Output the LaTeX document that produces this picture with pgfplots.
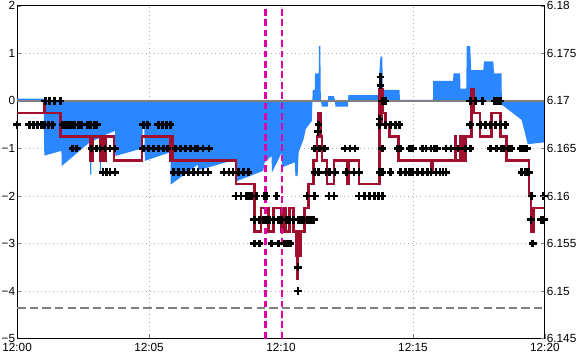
\documentclass[border=0pt]{standalone}
\usepackage{fontspec}
\setmainfont{Liberation Sans}
\usepackage{pgfplots}
\pgfplotsset{compat=1.18}
\definecolor{fillblue}{HTML}{2B87FF}
\definecolor{midred}{HTML}{A0102E}
\definecolor{evmag}{HTML}{E000A8}

\begin{document}
\begin{tikzpicture}[font=\fontsize{7pt}{8pt}\selectfont]
\begin{axis}[
    scale only axis, width=314pt, height=198pt,
    xmin=0, xmax=20, ymin=-5, ymax=2,
    xtick={0,5,10,15,20}, xticklabels={12:00,12:05,12:10,12:15,12:20},
    ytick={-5,-4,-3,-2,-1,0,1,2}, yticklabels={−5,−4,−3,−2,−1,0,1,2},
    xtick pos=bottom, ytick pos=left,
    tick align=inside, major tick length=2.5pt,
    yticklabel style={inner sep=1pt}, xticklabel style={inner sep=1pt, yshift=-1.6pt},
    grid=major, major grid style={gray!60, dotted, line width=0.5pt},
    axis line style={line width=0.7pt},
    clip=true,
]
% spread / imbalance area
\addplot[fill=fillblue, draw=none] coordinates {
 (0,0.05) (1.01,0.05) (1.03,-1.15) (1.68,-1.05) (1.69,-1.37) (2.75,-0.87)
 (2.77,-1.55) (2.81,-1.55) (2.83,-0.85) (3.12,-0.78) (3.14,-1.52) (3.17,-1.52)
 (3.19,-0.75) (3.71,-0.63) (3.72,-1.16) (4.74,-1.0) (4.76,-0.5) (4.82,-0.5)
 (4.84,-1.26) (5.81,-1.08) (5.82,-1.76) (6.85,-1.34) (6.86,-1.46) (8.30,-1.23)
 (8.31,-1.69) (9.33,-1.47) (9.37,-1.3) (9.64,-1.16) (9.66,-1.5) (10.02,-1.1)
 (10.04,-1.4) (10.52,-1.29) (10.55,-1.58) (10.63,-1.58) (10.67,-1.08) (10.86,-0.8)
 (10.94,-0.59) (11.17,-0.42) (11.19,0) (11.2,0.23) (11.28,0.23) (11.29,0.58)
 (11.43,0.58) (11.44,1.15) (11.49,1.15) (11.51,0) (11.55,-0.12) (11.78,-0.12)
 (11.79,0.1) (12.01,0.1) (12.05,0) (12.06,-0.12) (12.54,-0.12) (12.55,0.12)
 (13.69,0.12) (13.73,0.6) (13.77,0.93) (13.84,0.93) (13.86,0.23) (14.49,0.23)
 (14.51,0.02) (15.76,0.02) (15.77,0.42) (16.52,0.42) (16.54,0.58) (16.79,0.58)
 (16.80,0.26) (17.02,0.26) (17.04,1.15) (17.17,1.15) (17.21,0.65) (17.67,0.65)
 (17.69,0.83) (18.05,0.83) (18.07,0.58) (18.36,0.58) (18.37,-0.08) (19.12,-0.4)
 (19.27,-0.73) (19.35,-0.91) (20,-0.87)
} \closedcycle;
\addplot[gray, line width=0.9pt] coordinates {(0,0) (20,0)};
% trades
\addplot[only marks, mark=+, mark size=2.3pt, line width=1.6pt, black] coordinates {
 (1.07,0) (1.22,0) (1.42,0) (1.64,0) (13.84,0) (13.96,0) (17.17,0) (17.36,0)
 (17.63,0) (18.09,0) (18.20,0) (18.32,0)
 (13.77,0.5) (13.77,0.33) (13.73,-0.38) (11.40,-0.65)
 (0,-0.5) (0.46,-0.5) (0.61,-0.5) (0.76,-0.5) (0.92,-0.5) (1.03,-0.5) (1.19,-0.5)
 (1.34,-0.5) (1.72,-0.5) (1.84,-0.5) (1.95,-0.5) (2.07,-0.5) (2.18,-0.5) (2.33,-0.5)
 (2.45,-0.5) (2.68,-0.5) (2.79,-0.5) (2.91,-0.5) (3.02,-0.5) (4.78,-0.5) (4.93,-0.5)
 (5.35,-0.5) (5.51,-0.5) (5.66,-0.5) (5.81,-0.5) (11.42,-0.5) (13.73,-0.5)
 (13.96,-0.5) (14.15,-0.5) (14.34,-0.5) (14.49,-0.5) (17.17,-0.5) (17.55,-0.5)
 (17.74,-0.5) (17.94,-0.5) (18.13,-0.5) (18.32,-0.5) (18.51,-0.5)
 (2.10,-1) (2.26,-1) (2.83,-1) (3.02,-1) (3.14,-1) (3.33,-1) (3.52,-1) (3.71,-1)
 (4.78,-1) (4.97,-1) (5.16,-1) (5.35,-1) (5.55,-1) (5.70,-1) (6.00,-1) (6.20,-1)
 (6.39,-1) (6.58,-1) (6.77,-1) (6.85,-1) (7.04,-1) (7.27,-1) (11.28,-1) (11.47,-1)
 (11.66,-1) (12.43,-1) (12.62,-1) (12.81,-1) (13.84,-1) (14.42,-1) (14.53,-1)
 (14.88,-1) (14.99,-1) (15.37,-1) (15.49,-1) (15.68,-1) (15.83,-1) (15.91,-1)
 (16.25,-1) (16.44,-1) (16.71,-1) (16.98,-1) (17.17,-1) (17.94,-1) (18.16,-1)
 (18.36,-1) (18.43,-1) (18.62,-1) (18.74,-1) (19.08,-1) (19.20,-1) (19.31,-1)
 (3.25,-1.5) (3.40,-1.5) (3.52,-1.5) (3.71,-1.5) (5.93,-1.5) (6.12,-1.5) (6.31,-1.5)
 (6.50,-1.5) (6.69,-1.5) (6.85,-1.5) (7.04,-1.5) (7.23,-1.5) (7.84,-1.5) (8.03,-1.5)
 (8.18,-1.5) (8.38,-1.5) (8.57,-1.5) (8.76,-1.5) (11.28,-1.5) (11.43,-1.5)
 (11.70,-1.5) (11.85,-1.5) (12.05,-1.5) (12.47,-1.5) (12.77,-1.5) (12.96,-1.5)
 (13.73,-1.5) (13.84,-1.5) (14.15,-1.5) (14.53,-1.5) (14.72,-1.5) (14.88,-1.5)
 (14.99,-1.5) (15.18,-1.5) (15.37,-1.5) (15.56,-1.5) (15.68,-1.5) (15.87,-1.5)
 (16.02,-1.5) (16.14,-1.5) (16.25,-1.5) (19.12,-1.5) (19.27,-1.5) (19.39,-1.5)
 (8.30,-2) (8.49,-2) (8.68,-2) (8.80,-2) (8.87,-2) (9.06,-2) (9.37,-2) (9.45,-2)
 (9.83,-2) (10.98,-2) (11.28,-2) (11.82,-2) (12.01,-2) (12.96,-2) (13.16,-2)
 (13.35,-2) (13.54,-2) (13.69,-2) (13.84,-2) (19.50,-2) (19.96,-2)
 (8.99,-2.5) (9.18,-2.5) (9.33,-2.5) (9.45,-2.5) (9.56,-2.5) (9.71,-2.5) (9.90,-2.5)
 (10.02,-2.5) (10.21,-2.5) (10.33,-2.5) (10.48,-2.5) (10.67,-2.5) (10.78,-2.5)
 (10.86,-2.5) (10.98,-2.5) (11.09,-2.5) (11.17,-2.5) (11.24,-2.5) (19.47,-2.5)
 (19.85,-2.5) (19.96,-2.5)
 (8.99,-3) (9.18,-3) (9.64,-3) (9.90,-3) (10.13,-3) (10.25,-3) (10.36,-3) (19.54,-3)
 (10.65,-3.5) (10.65,-4)
};
% mid price
\addplot[const plot, midred, line width=1.5pt] coordinates {
 (0,-0.25) (1.03,0) (1.05,-0.25) (1.64,-0.75) (2.79,-1.25) (2.87,-0.75) (3.14,-1.25)
 (3.21,-0.75) (3.29,-1.25) (3.35,-0.75) (3.67,-1.25) (4.74,-0.75) (5.81,-1.25)
 (5.85,-0.75) (5.89,-1.25) (8.30,-1.75) (8.99,-2.75) (9.25,-2.25) (9.52,-2.75)
 (9.71,-2.25) (10.02,-2.75) (10.06,-2.25) (10.10,-2.75) (10.13,-2.25) (10.17,-2.75)
 (10.33,-2.25) (10.48,-2.75) (10.59,-3.25) (10.63,-3.75) (10.65,-2.75) (10.69,-3.25)
 (10.73,-2.75) (10.90,-2.25) (11.05,-1.75) (11.24,-1.25) (11.36,-0.75) (11.43,-0.25)
 (11.49,-0.75) (11.55,-1.25) (11.74,-1.75) (12.01,-1.25) (12.50,-1.75) (12.58,-1.25)
 (12.96,-1.75) (13.73,0.25) (13.77,-0.5) (13.80,0.25) (13.84,-0.25) (13.96,-0.5)
 (14.11,-0.75) (14.45,-1.25) (15.68,-1.5) (15.76,-1.25) (16.60,-0.75) (16.64,-1.25)
 (16.79,-0.75) (16.83,-1.25) (16.87,-0.75) (16.91,-1.25) (16.95,-0.75) (16.98,-1.25)
 (17.02,-0.75) (17.21,0.25) (17.29,-0.25) (17.55,-0.75) (17.97,-0.25) (18.32,-0.75)
 (18.55,-1.25) (19.39,-2.0) (19.47,-2.75) (19.50,-2.25) (19.54,-2.75) (19.58,-2.25)
 (20,-2.25)
};
\addplot[gray, line width=0.9pt, dash pattern=on 5pt off 2.5pt] coordinates {(0,-4.36) (20,-4.36)};
\addplot[evmag, line width=1.4pt, dash pattern=on 4pt off 2.2pt] coordinates {(9.41,-5) (9.41,2)};
\addplot[evmag, line width=1.4pt, dash pattern=on 4pt off 2.2pt] coordinates {(10.05,-5) (10.05,2)};
\end{axis}
\begin{axis}[
    scale only axis, width=314pt, height=198pt,
    xmin=0, xmax=20, ymin=6.145, ymax=6.18,
    axis x line=none, axis y line*=right,
    ytick={6.145,6.15,6.155,6.16,6.165,6.17,6.175,6.18},
    yticklabels={6.145,6.15,6.155,6.16,6.165,6.17,6.175,6.18},
    yticklabel style={inner sep=1pt},
    tick align=inside, major tick length=2.5pt,
    axis line style={line width=0.7pt},
]
\addplot[draw=none] coordinates {(0,6.17) (20,6.17)};
\end{axis}
\end{tikzpicture}
\end{document}
